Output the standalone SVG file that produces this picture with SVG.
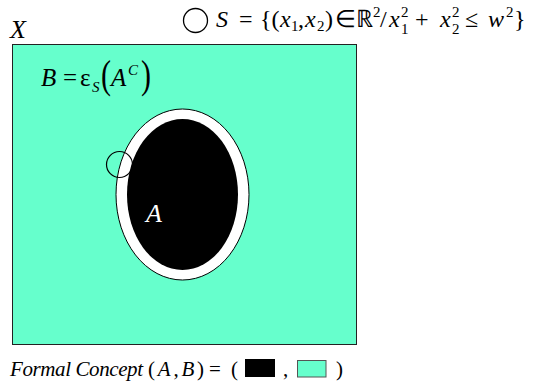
<svg xmlns="http://www.w3.org/2000/svg" width="557" height="385" viewBox="0 0 557 385">
<style>
.t{font-family:"Liberation Serif","Times New Roman",serif;fill:#000}
.i{font-style:italic}
.m{font-size:24px}
.s{font-size:15px}
</style>
<rect width="557" height="385" fill="#fff"/>
<g id="universe">
<rect x="12.5" y="44.5" width="344" height="300" fill="#66FFCC" stroke="#222" stroke-width="1"/>
<text class="t i" x="10" y="38" font-size="26">X</text>
</g>
<g id="setB">
<text class="t" y="86" font-size="25"><tspan class="i" x="41">B</tspan><tspan x="63">=</tspan><tspan x="80">ε</tspan></text>
<text class="t i" x="92" y="92" font-size="15">S</text>
<text class="t" x="101" y="88" font-size="40" transform="translate(101 88) scale(0.75 1) translate(-101 -88)">(</text>
<text class="t i" x="111" y="86" font-size="25">A</text>
<text class="t i" x="128" y="75" font-size="15">C</text>
<text class="t" x="141" y="88" font-size="40" transform="translate(141 88) scale(0.75 1) translate(-141 -88)">)</text>
</g>
<g id="dilation">
<ellipse cx="182.5" cy="194.5" rx="66.5" ry="85.5" fill="#fff" stroke="#000" stroke-width="1"/>
</g>
<g id="setA">
<ellipse cx="182.5" cy="194.5" rx="55.5" ry="75.5" fill="#000"/>
<text class="t i" x="146" y="222" font-size="26" style="fill:#fff">A</text>
</g>
<g id="structuring-element">
<circle cx="119.5" cy="164.5" r="13" fill="none" stroke="#000" stroke-width="1.2"/>
</g>
<g id="legend-S">
<circle cx="195.5" cy="20.5" r="12" fill="none" stroke="#000" stroke-width="1.3"/>
<text class="t m" y="27"><tspan class="i" x="216">S</tspan><tspan x="239">=</tspan><tspan x="260">{(</tspan><tspan class="i" x="280">x</tspan><tspan class="s" x="291" y="31">1</tspan><tspan x="298" y="27">,</tspan><tspan class="i" x="305">x</tspan><tspan class="s" x="317" y="31">2</tspan><tspan x="325" y="27">)</tspan><tspan x="335">∈</tspan><tspan x="356">ℝ</tspan><tspan class="s" x="373" y="17">2</tspan><tspan x="380" y="27">/</tspan><tspan class="i" x="389">x</tspan><tspan class="s" x="401" y="17">2</tspan><tspan class="s" x="401" y="34">1</tspan><tspan x="415" y="27">+</tspan><tspan class="i" x="440">x</tspan><tspan class="s" x="452" y="17">2</tspan><tspan class="s" x="452" y="34">2</tspan><tspan x="465" y="27">≤</tspan><tspan class="i" x="488">w</tspan><tspan class="s" x="506" y="17">2</tspan><tspan x="514" y="27">}</tspan></text>
</g>
<g id="legend-concept">
<text class="t" y="376" font-size="21"><tspan class="i" x="10" textLength="133" lengthAdjust="spacing">Formal Concept</tspan><tspan x="148" textLength="56" lengthAdjust="spacing">(<tspan class="i">A</tspan>,<tspan class="i">B</tspan>)</tspan><tspan x="209">=</tspan><tspan x="231">(</tspan><tspan x="283">,</tspan><tspan x="336">)</tspan></text>
<rect x="245" y="359" width="30" height="18" fill="#000"/>
<rect x="297.5" y="360.5" width="28.5" height="16.5" fill="#66FFCC" stroke="#555" stroke-width="1"/>
</g>
</svg>
